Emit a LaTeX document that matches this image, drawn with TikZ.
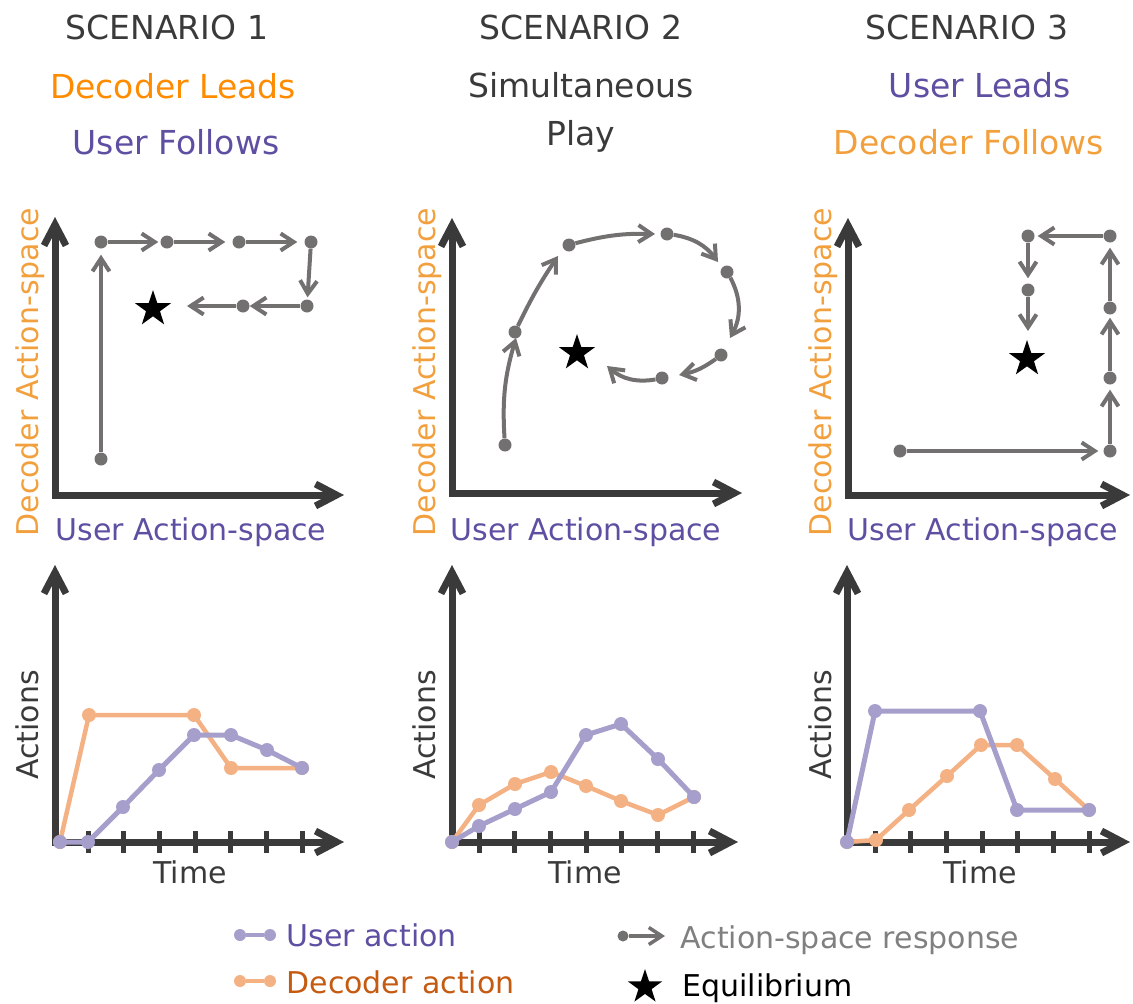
\documentclass[tikz,border=0pt]{standalone}
\usepackage{fontspec}
\setmainfont{DejaVu Sans}
\usetikzlibrary{arrows.meta,shapes.geometric}
\definecolor{axisgray}{HTML}{3A3A3A}
\definecolor{respgray}{HTML}{737070}
\definecolor{userpurple}{HTML}{5E4FA2}
\definecolor{userline}{HTML}{A79FCB}
\definecolor{decline}{HTML}{F4B183}
\definecolor{decbright}{HTML}{FF8C00}
\definecolor{declight}{HTML}{F2A03D}
\definecolor{decdark}{HTML}{C55A11}
\definecolor{legendgray}{HTML}{808080}
\tikzset{
  axis/.style={draw=axisgray, line width=7pt, line join=miter,
    {Straight Barb[length=21pt,width=22pt]}-{Straight Barb[length=21pt,width=22pt]}},
  tick/.style={draw=axisgray, line width=5pt},
  dot/.style={circle, fill=respgray, inner sep=0pt, minimum size=13pt},
  resp/.style={draw=respgray, line width=4pt,
    -{Straight Barb[length=13pt,width=17pt]}, shorten >=4pt},
  udot/.style={circle, fill=userline, inner sep=0pt, minimum size=14pt},
  ddot/.style={circle, fill=decline, inner sep=0pt, minimum size=14pt},
  uline/.style={draw=userline, line width=5pt},
  dline/.style={draw=decline, line width=4.5pt},
  eq/.style={star, star points=5, star point ratio=2.6, fill=black,
    inner sep=0pt, minimum size=38pt},
  title/.style={font=\fontsize{33}{40}\selectfont, anchor=base},
  lab/.style={font=\fontsize{30}{36}\selectfont, anchor=base},
}
\begin{document}
\begin{tikzpicture}[x=1pt,y=-1pt]
\useasboundingbox (0,0) rectangle (1133,1004);

% headings
\node[title, text=axisgray] (t1) at (167,39) {SCENARIO 1};
\node[title, text=decbright] (t1a) at (173,98) {Decoder Leads};
\node[title, text=userpurple] (t1b) at (176,154) {User Follows};
\node[title, text=axisgray] (t2) at (581,39) {SCENARIO 2};
\node[title, text=axisgray] (t2a) at (581,97) {Simultaneous};
\node[title, text=axisgray] (t2b) at (581,145) {Play};
\node[title, text=axisgray] (t3) at (967,39) {SCENARIO 3};
\node[title, text=userpurple] (t3a) at (980,97) {User Leads};
\node[title, text=declight] (t3b) at (969,154) {Decoder Follows};

% action-space axes
\coordinate (o1) at (55,495);
\coordinate (y1) at (55,217);
\coordinate (x1) at (344,495);
\draw[axis] (y1) -- (o1) -- (x1);
\coordinate (o2) at (452,493);
\coordinate (y2) at (452,218);
\coordinate (x2) at (742,493);
\draw[axis] (y2) -- (o2) -- (x2);
\coordinate (o3) at (848,495);
\coordinate (y3) at (848,218);
\coordinate (x3) at (1130,495);
\draw[axis] (y3) -- (o3) -- (x3);

\node[lab, text=userpurple] (ux1) at (191,540) {User Action-space};
\node[lab, text=userpurple] (ux2) at (586,540) {User Action-space};
\node[lab, text=userpurple] (ux3) at (983,540) {User Action-space};
\node[lab, text=declight, rotate=90, anchor=base west] (dy1) at (38,540) {Decoder Action-space};
\node[lab, text=declight, rotate=90, anchor=base west] (dy2) at (435,540) {Decoder Action-space};
\node[lab, text=declight, rotate=90, anchor=base west] (dy3) at (831,540) {Decoder Action-space};

% scenario 1 path
\node[dot] (a0) at (101,459) {};
\node[dot] (a1) at (101,242) {};
\node[dot] (a2) at (167,242) {};
\node[dot] (a3) at (239,242) {};
\node[dot] (a4) at (311,242) {};
\node[dot] (a5) at (307,306) {};
\node[dot] (a6) at (243,306) {};
\coordinate (a7) at (187,306);
\draw[resp, shorten >=6pt] (a0) -- (a1);
\draw[resp, shorten >=2pt] (a1) -- (a2);
\draw[resp, shorten >=7pt] (a2) -- (a3);
\draw[resp, shorten >=7pt] (a3) -- (a4);
\draw[resp, shorten >=2pt] (a4) -- (a5);
\draw[resp, shorten >=0pt] (a5) -- (a6);
\draw[resp, shorten >=0pt] (a6) -- (a7);
\node[eq] (eq1) at (153,309) {};

% scenario 2 path
\node[dot] (b0) at (505,445) {};
\node[dot] (b1) at (515,332) {};
\node[dot] (b2) at (569,245) {};
\node[dot] (b3) at (667,234) {};
\node[dot] (b4) at (727,272) {};
\node[dot] (b5) at (721,355) {};
\node[dot] (b6) at (662,378) {};
\coordinate (b1t) at (516,338);
\coordinate (b2t) at (558,256);
\coordinate (b3t) at (655,234);
\coordinate (b4t) at (718,262);
\coordinate (b5t) at (730,338);
\coordinate (b6t) at (679,375);
\coordinate (b7t) at (607,366);
\draw[resp, shorten >=0pt] (b0) to[bend left=10] (b1t);
\draw[resp, shorten >=0pt] (b1) to[bend left=4] (b2t);
\draw[resp, shorten >=0pt] (b2) to[bend left=8] (b3t);
\draw[resp, shorten >=0pt] (b3) to[bend left=22] (b4t);
\draw[resp, shorten >=0pt] (b4) to[bend left=28] (b5t);
\draw[resp, shorten >=0pt] (b5) to[bend left=12] (b6t);
\draw[resp, shorten >=0pt] (b6) to[bend left=25] (b7t);
\node[eq] (eq2) at (577,353) {};

% scenario 3 path
\node[dot] (c0) at (900,451) {};
\node[dot] (c1) at (1110,451) {};
\node[dot] (c2) at (1110,378) {};
\node[dot] (c3) at (1110,308) {};
\node[dot] (c4) at (1110,236) {};
\node[dot] (c5) at (1028,236) {};
\node[dot] (c6) at (1028,290) {};
\coordinate (c7) at (1028,331);
\draw[resp, shorten >=5pt] (c0) -- (c1);
\draw[resp, shorten >=5pt] (c1) -- (c2);
\draw[resp, shorten >=3pt] (c2) -- (c3);
\draw[resp, shorten >=5pt] (c3) -- (c4);
\draw[resp, shorten >=3pt] (c4) -- (c5);
\draw[resp, shorten >=5pt] (c5) -- (c6);
\draw[resp, shorten >=0pt] (c6) -- (c7);
\node[eq] (eq3) at (1027,359) {};

% time axes
\coordinate (p1) at (55,842);
\coordinate (q1) at (55,565);
\coordinate (r1) at (344,842);
\draw[axis] (q1) -- (p1) -- (r1);
\coordinate (p2) at (452,842);
\coordinate (q2) at (452,565);
\coordinate (r2) at (738,842);
\draw[axis] (q2) -- (p2) -- (r2);
\coordinate (p3) at (847,842);
\coordinate (q3) at (847,565);
\coordinate (r3) at (1130,842);
\draw[axis] (q3) -- (p3) -- (r3);
\foreach \k in {0,...,6} {
  \draw[tick] (88+35.67*\k,831) -- (88+35.67*\k,853);
  \draw[tick] (479+35.67*\k,831) -- (479+35.67*\k,853);
  \draw[tick] (875+35.67*\k,831) -- (875+35.67*\k,853);
}
\node[lab, text=axisgray] (tm1) at (190,883) {Time};
\node[lab, text=axisgray] (tm2) at (585,883) {Time};
\node[lab, text=axisgray] (tm3) at (980,883) {Time};
\node[lab, text=axisgray, rotate=90] (ac1) at (38,725) {Actions};
\node[lab, text=axisgray, rotate=90] (ac2) at (435,725) {Actions};
\node[lab, text=axisgray, rotate=90] (ac3) at (831,725) {Actions};

% scenario 1 actions
\foreach \x/\y [count=\i] in {60/842,89/715,194/715,231/768,302/768}
  \coordinate (da\i) at (\x,\y);
\foreach \x/\y [count=\i] in {60/842,88/842,123/807,159/770,194/735,231/735,267/750,302/768}
  \coordinate (ua\i) at (\x,\y);
\draw[dline] (da1) foreach \i in {2,...,5} {-- (da\i)};
\foreach \i in {1,...,5} \node[ddot] at (da\i) {};
\draw[uline] (ua1) foreach \i in {2,...,8} {-- (ua\i)};
\foreach \i in {1,...,8} \node[udot] at (ua\i) {};

% scenario 2 actions
\foreach \x/\y [count=\i] in {452/842,479/805,515/784,551/772,586/786,621/801,658/815,694/797}
  \coordinate (db\i) at (\x,\y);
\foreach \x/\y [count=\i] in {452/842,479/826,515/809,551/792,586/735,621/724,658/759,694/797}
  \coordinate (ub\i) at (\x,\y);
\draw[dline] (db1) foreach \i in {2,...,8} {-- (db\i)};
\foreach \i in {1,...,8} \node[ddot] at (db\i) {};
\draw[uline] (ub1) foreach \i in {2,...,8} {-- (ub\i)};
\foreach \i in {1,...,8} \node[udot] at (ub\i) {};

% scenario 3 actions
\foreach \x/\y [count=\i] in {847/842,876/840,909/810,947/776,981/745,1017/745,1055/779,1089/810}
  \coordinate (dc\i) at (\x,\y);
\foreach \x/\y [count=\i] in {847/842,875/711,980/711,1017/810,1089/810}
  \coordinate (uc\i) at (\x,\y);
\draw[dline] (dc1) foreach \i in {2,...,8} {-- (dc\i)};
\foreach \i in {1,...,8} \node[ddot] at (dc\i) {};
\draw[uline] (uc1) foreach \i in {2,...,5} {-- (uc\i)};
\foreach \i in {1,...,5} \node[udot] at (uc\i) {};

% legend
\node[udot, minimum size=12pt] (lu1) at (240,935) {};
\node[udot, minimum size=12pt] (lu2) at (270,935) {};
\draw[uline, line width=4.5pt] (lu1) -- (lu2);
\node[lab, text=userpurple, anchor=base west] (lut) at (283,946) {User action};
\node[ddot, minimum size=12pt] (ld1) at (240,981) {};
\node[ddot, minimum size=12pt] (ld2) at (270,981) {};
\draw[dline] (ld1) -- (ld2);
\node[lab, text=decdark, anchor=base west] (ldt) at (283,993) {Decoder action};
\node[dot, minimum size=11pt] (lr1) at (623,936) {};
\coordinate (lr2) at (665,936);
\draw[resp, line width=3.5pt, shorten >=0pt] (lr1) -- (lr2);
\node[lab, text=legendgray, anchor=base west] (lrt) at (677,948) {Action-space response};
\node[eq, minimum size=36pt] (leq) at (645,987) {};
\node[lab, text=black, anchor=base west] (leqt) at (679,996) {Equilibrium};
\end{tikzpicture}
\end{document}
